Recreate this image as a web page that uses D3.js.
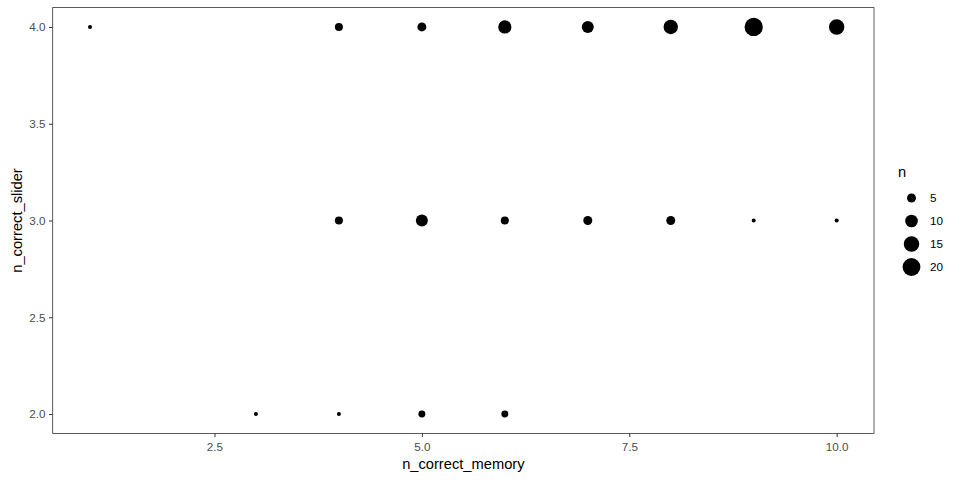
<!DOCTYPE html>
<html>
<head>
<meta charset="utf-8">
<script src="https://cdn.jsdelivr.net/npm/d3@7"></script>
<style>
  body { margin: 0; background: #fff; }
  text { font-family: "Liberation Sans", Arial, sans-serif; }
</style>
</head>
<body>
<div id="chart"></div>
<script>
// counts per (memory, slider) pair
var memory = [1, 4, 5, 6, 7, 8, 9, 10,   4, 5, 6, 7, 8, 9, 10,   3, 4, 5, 6];
var slider = [4, 4, 4, 4, 4, 4, 4, 4,    3, 3, 3, 3, 3, 3, 3,    2, 2, 2, 2];
var counts = [1, 4, 5, 11, 9, 13, 21, 15, 4, 9, 4, 5, 5, 1, 1,   1, 1, 3, 3];

var xTicks = [2.5, 5.0, 7.5, 10.0];
var yTicks = [2.0, 2.5, 3.0, 3.5, 4.0];
var sizeBreaks = [5, 10, 15, 20];

var W = 960, H = 480;
var panel = {left: 52.7, right: 874, top: 7.6, bottom: 433.4};

var svg = d3.select("#chart").append("svg")
    .attr("width", W)
    .attr("height", H);

// ggplot style 5% expansion on each side
function expand(ext, f) {
    var d = (ext[1] - ext[0]) * f;
    return [ext[0] - d, ext[1] + d];
}

var x = d3.scaleLinear()
    .domain(expand(d3.extent(memory), 0.05))
    .range([panel.left, panel.right]);
var y = d3.scaleLinear()
    .domain(expand(d3.extent(slider), 0.05))
    .range([panel.bottom, panel.top]);

// size scale: area, size 1..6 then point diameter in px
var sizeScale = d3.scaleLinear()
    .domain([Math.sqrt(d3.min(counts)), Math.sqrt(d3.max(counts))])
    .range([1, 6]);
function radius(n) {
    var s = sizeScale(Math.sqrt(n));
    return (s * 2.845 + 1.2) / 2;
}

var data = counts.map(function (n, i) {
    return {x: memory[i], y: slider[i], n: n};
});

// axes
var xAxis = svg.append("g")
    .attr("transform", "translate(0," + panel.bottom + ")")
    .call(d3.axisBottom(x).tickValues(xTicks).tickFormat(d3.format(".1f")).tickSize(3.7).tickPadding(6));
var yAxis = svg.append("g")
    .attr("transform", "translate(" + panel.left + ",0)")
    .call(d3.axisLeft(y).tickValues(yTicks).tickFormat(d3.format(".1f")).tickSize(3.7).tickPadding(3.5));

[xAxis, yAxis].forEach(function (ax) {
    ax.select(".domain").remove();
    ax.selectAll(".tick line").attr("stroke", "#333333").attr("stroke-width", 1);
    ax.selectAll(".tick text")
	.attr("fill", "#4d4d4d")
	.style("font-size", "11.7px");
});

// points
svg.append("g")
    .selectAll("circle")
    .data(data)
    .enter().append("circle")
    .attr("cx", function (d) { return x(d.x); })
    .attr("cy", function (d) { return y(d.y); })
    .attr("r", function (d) { return radius(d.n); })
    .attr("fill", "#000");

// panel border
svg.append("rect")
    .attr("x", panel.left)
    .attr("y", panel.top)
    .attr("width", panel.right - panel.left)
    .attr("height", panel.bottom - panel.top)
    .attr("fill", "none")
    .attr("stroke", "#333333")
    .attr("stroke-width", 0.8);

// axis titles
svg.append("text")
    .attr("x", (panel.left + panel.right) / 2)
    .attr("y", 469)
    .attr("text-anchor", "middle")
    .style("font-size", "14.7px")
    .text("n_correct_memory");

svg.append("text")
    .attr("transform", "translate(22," + (panel.top + panel.bottom) / 2 + ") rotate(-90)")
    .attr("text-anchor", "middle")
    .style("font-size", "14.7px")
    .text("n_correct_slider");

// legend
var legend = svg.append("g").attr("transform", "translate(898,0)");
legend.append("text")
    .attr("x", 0)
    .attr("y", 177)
    .style("font-size", "14.7px")
    .text("n");

var keys = legend.selectAll("g.key")
    .data(sizeBreaks)
    .enter().append("g")
    .attr("class", "key")
    .attr("transform", function (d, i) { return "translate(0," + (198 + i * 23) + ")"; });
keys.append("circle")
    .attr("cx", 13.5)
    .attr("cy", 0)
    .attr("r", radius)
    .attr("fill", "#000");
keys.append("text")
    .attr("x", 32)
    .attr("y", 0)
    .attr("dy", "0.35em")
    .style("font-size", "11.7px")
    .text(function (d) { return d; });
</script>
</body>
</html>
